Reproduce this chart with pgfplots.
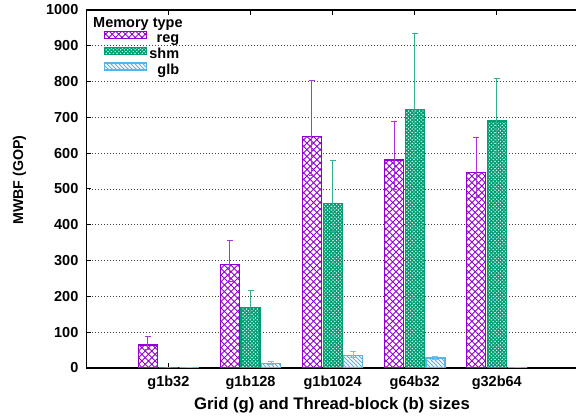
\documentclass[border=0pt]{standalone}
\usepackage{fontspec}
\setmainfont{Liberation Sans}
\usepackage{pgfplots}
\pgfplotsset{compat=1.18}
\usepackage{pgfplotstable}
\usetikzlibrary{patterns}

\definecolor{regc}{HTML}{9400D3}
\definecolor{shmc}{HTML}{009E73}
\definecolor{glbc}{HTML}{56B4E9}

\pgfdeclarepatternformonly{regx}{\pgfqpoint{-1pt}{-1pt}}{\pgfqpoint{8pt}{8pt}}{\pgfqpoint{6.6pt}{6.6pt}}{%
  \pgfsetlinewidth{0.9pt}%
  \pgfpathmoveto{\pgfqpoint{-0.2pt}{-0.2pt}}\pgfpathlineto{\pgfqpoint{6.8pt}{6.8pt}}%
  \pgfpathmoveto{\pgfqpoint{-0.2pt}{6.8pt}}\pgfpathlineto{\pgfqpoint{6.8pt}{-0.2pt}}%
  \pgfusepath{stroke}}
\pgfdeclarepatternformonly{shmx}{\pgfqpoint{-1pt}{-1pt}}{\pgfqpoint{5pt}{5pt}}{\pgfqpoint{3.6pt}{3.6pt}}{%
  \pgfsetlinewidth{1.2pt}%
  \pgfpathmoveto{\pgfqpoint{-0.2pt}{-0.2pt}}\pgfpathlineto{\pgfqpoint{3.8pt}{3.8pt}}%
  \pgfpathmoveto{\pgfqpoint{-0.2pt}{3.8pt}}\pgfpathlineto{\pgfqpoint{3.8pt}{-0.2pt}}%
  \pgfusepath{stroke}}
\pgfdeclarepatternformonly{glbx}{\pgfqpoint{-1pt}{-1pt}}{\pgfqpoint{5pt}{5pt}}{\pgfqpoint{4pt}{4pt}}{%
  \pgfsetlinewidth{0.8pt}%
  \pgfpathmoveto{\pgfqpoint{-0.2pt}{4.2pt}}\pgfpathlineto{\pgfqpoint{4.2pt}{-0.2pt}}%
  \pgfusepath{stroke}}

\pgfplotstableread{
x y ep em
0 64 23 11
1 290 66 47
2 646 156 107
3 581 108 82
4 547 97 70
}\regdata
\pgfplotstableread{
x y ep em
0 0 0 0
1 170 47 31
2 460 120 79
3 721 213 137
4 690 119 88
}\shmdata
\pgfplotstableread{
x y ep em
0 0 0 0
1 13 6 3
2 35.5 11.5 5
3 28 5 4
4 0 0 0
}\glbdata

\newcommand{\lblfont}{\fontsize{14.5}{16}\selectfont\bfseries}

\begin{document}
\begin{tikzpicture}
\useasboundingbox (-86.3pt,-49pt) rectangle (489.7pt,368pt);
\begin{axis}[
  scale only axis, width=492.6pt, height=358pt,
  xmin=-1, xmax=5, ymin=0, ymax=1000,
  ybar=1.7pt, bar width=19pt,
  xtick={0,1,2,3,4},
  xticklabels={g1b32,g1b128,g1b1024,g64b32,g32b64},
  ytick={0,100,...,1000},
  tick align=inside, major tick length=5pt,
  xtick pos=both, ytick pos=left,
  tick style={black, line width=1pt},
  axis line style={black, line width=1.3pt},
  ymajorgrids,
  major grid style={black!75, line width=0.8pt, dash pattern=on 1pt off 2pt},
  /pgf/number format/assume math mode=true,
  /pgf/number format/1000 sep={},
  tick label style={font=\lblfont},
  xticklabel style={yshift=-4.0pt},
  yticklabel style={xshift=-4.4pt},
  xlabel={Grid (g) and Thread-block (b) sizes},
  ylabel={MWBF (GOP)},
  every axis x label/.style={at={(axis description cs:0.4988,-0.1034)}, anchor=center, font=\fontsize{16.7}{18}\selectfont\bfseries},
  every axis y label/.style={at={(axis description cs:-0.1356,0.525)}, anchor=center, rotate=90, font=\fontsize{14.2}{16}\selectfont\bfseries},
  legend cell align=right,
  legend style={draw=none, fill=none, font=\lblfont, inner sep=0pt,
    at={(axis description cs:0,1)}, anchor=north west, xshift=17.7pt, yshift=-20.4pt,
    nodes={inner ysep=1pt, inner xsep=2pt, text height=10.25pt, text depth=3pt},
    /tikz/every even column/.append style={column sep=2.3pt}},
  legend image code/.code={\draw[#1] (0pt,0.7pt) rectangle (42pt,7.7pt);},
  error bars/y dir=both, error bars/y explicit,
]
\addplot[draw=regc, line width=1.2pt, preaction={fill=white}, pattern=regx, pattern color=regc,
  error bars/error bar style={regc!80, line width=1pt},
  error bars/error mark options={regc!80, line width=1pt, mark size=3pt, rotate=90}]
  table[x=x, y=y, y error plus=ep, y error minus=em] {\regdata};
\addlegendentry{reg}
\addplot[draw=shmc, line width=1.2pt, preaction={fill=white}, pattern=shmx, pattern color=shmc,
  error bars/error bar style={shmc!80, line width=1pt},
  error bars/error mark options={shmc!80, line width=1pt, mark size=3pt, rotate=90}]
  table[x=x, y=y, y error plus=ep, y error minus=em] {\shmdata};
\addlegendentry{shm}
\addplot[draw=glbc, line width=1.2pt, preaction={fill=white}, pattern=glbx, pattern color=glbc,
  error bars/error bar style={glbc!80, line width=1pt},
  error bars/error mark options={glbc!80, line width=1pt, mark size=3pt, rotate=90}]
  table[x=x, y=y, y error plus=ep, y error minus=em] {\glbdata};
\addlegendentry{glb}
\node[anchor=base west, inner sep=0pt, font=\lblfont] at ([xshift=6.7pt,yshift=-17.7pt]rel axis cs:0,1) {Memory type};
\end{axis}
\end{tikzpicture}
\end{document}
